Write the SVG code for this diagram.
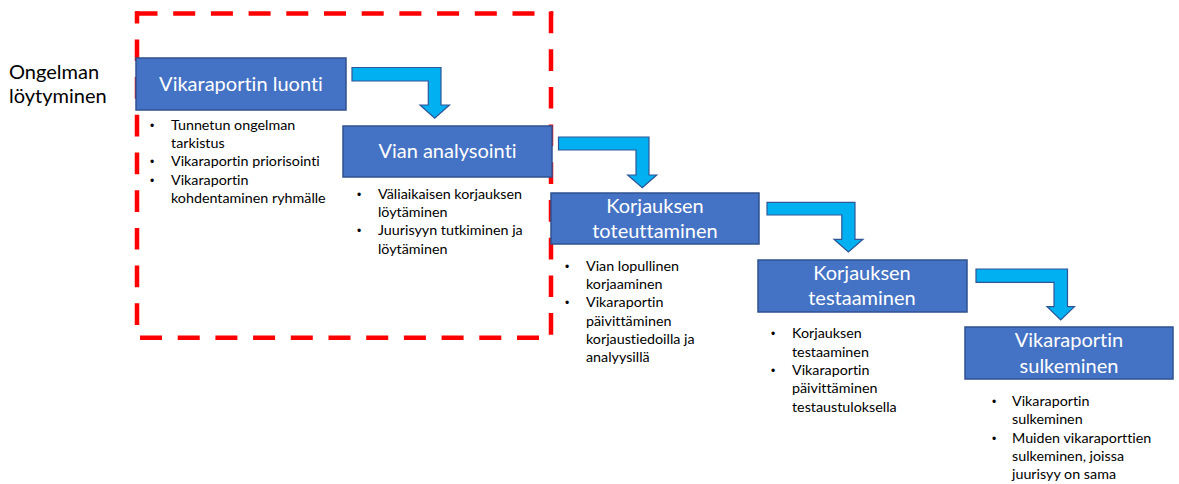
<svg xmlns="http://www.w3.org/2000/svg" width="1179" height="484" viewBox="0 0 1179 484">
  <style>
    text { font-variant-ligatures: none; }
    .box { fill: #4472C4; stroke: #2F528F; stroke-width: 1.5; }
    .title { font-family: Lato, "Liberation Sans", sans-serif; font-size: 20px; fill: #FFFFFF; text-anchor: middle; }
    .item { font-family: Lato, "Liberation Sans", sans-serif; font-size: 14.3px; fill: #000000; }
    .dot { font-family: "Liberation Sans", sans-serif; font-size: 12px; fill: #000000; text-anchor: middle; }
    .label { font-family: Lato, "Liberation Sans", sans-serif; font-size: 20px; fill: #000000; }
    .frame { stroke: #FF0000; stroke-width: 4.5; fill: none; }
    .flow { fill: #00B0F0; stroke: #2F5597; stroke-width: 1.2; stroke-linejoin: miter; }
  </style>

  <!-- side label -->
  <g id="label-start">
    <text class="label" x="9" y="79">Ongelman</text>
    <text class="label" x="9" y="103">löytyminen</text>
  </g>

  <!-- red dashed frame, drawn side by side so the dash phase fits each edge -->
  <g id="frame">
    <line class="frame" x1="135.5" y1="13.5" x2="553.2" y2="13.5" stroke-dasharray="22 15.7"/>
    <line class="frame" x1="551" y1="11.5" x2="551" y2="336" stroke-dasharray="21.7 16"/>
    <line class="frame" x1="140" y1="337.7" x2="552" y2="337.7" stroke-dasharray="22 15.7"/>
    <line class="frame" x1="137" y1="325" x2="137" y2="11.3" stroke-dasharray="21.7 16"/>
  </g>

  <!-- connectors -->
  <g id="connectors">
    <path class="flow" d="M352,67.5 H441 V105 H449.5 L434.7,118.3 L420,105 H428.3 V81 H352 Z"/>
    <path class="flow" d="M558.5,137 H649 V175 H656.7 L642.3,187.8 L627.7,175 H636 V150 H558.5 Z"/>
    <path class="flow" d="M767,202.3 H855 V239.3 H863 L848.4,252 L834,239.3 H841.8 V215 H767 Z"/>
    <path class="flow" d="M976,269 H1067.5 V306.7 H1074.5 L1060.7,320 L1047,306.7 H1054 V282.3 H976 Z"/>
  </g>

  <g id="node-luonti">
    <rect class="box" x="136" y="58" width="210" height="52"/>
    <text class="title" x="241" y="91">Vikaraportin luonti</text>
    <text class="dot" x="152" y="130">•</text>
    <text class="item" x="171" y="130">Tunnetun ongelman</text>
    <text class="item" x="171" y="148">tarkistus</text>
    <text class="dot" x="152" y="166">•</text>
    <text class="item" x="171" y="166">Vikaraportin priorisointi</text>
    <text class="dot" x="152" y="185">•</text>
    <text class="item" x="171" y="185">Vikaraportin</text>
    <text class="item" x="171" y="203">kohdentaminen ryhmälle</text>
  </g>

  <g id="node-analysointi">
    <rect class="box" x="343" y="126" width="209" height="51"/>
    <text class="title" x="447.5" y="158">Vian analysointi</text>
    <text class="dot" x="359" y="199">•</text>
    <text class="item" x="378" y="199">Väliaikaisen korjauksen</text>
    <text class="item" x="378" y="217">löytäminen</text>
    <text class="dot" x="359" y="235">•</text>
    <text class="item" x="378" y="235">Juurisyyn tutkiminen ja</text>
    <text class="item" x="378" y="254">löytäminen</text>
  </g>

  <g id="node-toteuttaminen">
    <rect class="box" x="551" y="193" width="208" height="51"/>
    <text class="title" x="655" y="213">Korjauksen</text>
    <text class="title" x="655" y="238">toteuttaminen</text>
    <text class="dot" x="567" y="271">•</text>
    <text class="item" x="586" y="271">Vian lopullinen</text>
    <text class="item" x="586" y="289">korjaaminen</text>
    <text class="dot" x="567" y="307">•</text>
    <text class="item" x="586" y="307">Vikaraportin</text>
    <text class="item" x="586" y="326">päivittäminen</text>
    <text class="item" x="586" y="344">korjaustiedoilla ja</text>
    <text class="item" x="586" y="362">analyysillä</text>
  </g>

  <g id="node-testaaminen">
    <rect class="box" x="758" y="260" width="209" height="52"/>
    <text class="title" x="862" y="280">Korjauksen</text>
    <text class="title" x="862" y="305">testaaminen</text>
    <text class="dot" x="773" y="338">•</text>
    <text class="item" x="792" y="338">Korjauksen</text>
    <text class="item" x="792" y="357">testaaminen</text>
    <text class="dot" x="773" y="375">•</text>
    <text class="item" x="792" y="375">Vikaraportin</text>
    <text class="item" x="792" y="393">päivittäminen</text>
    <text class="item" x="792" y="412">testaustuloksella</text>
  </g>

  <g id="node-sulkeminen">
    <rect class="box" x="965" y="327" width="208" height="52"/>
    <text class="title" x="1069" y="347">Vikaraportin</text>
    <text class="title" x="1069" y="373">sulkeminen</text>
    <text class="dot" x="994" y="406">•</text>
    <text class="item" x="1012" y="406">Vikaraportin</text>
    <text class="item" x="1012" y="424">sulkeminen</text>
    <text class="dot" x="994" y="443">•</text>
    <text class="item" x="1012" y="443">Muiden vikaraporttien</text>
    <text class="item" x="1012" y="461">sulkeminen, joissa</text>
    <text class="item" x="1012" y="479">juurisyy on sama</text>
  </g>
</svg>
